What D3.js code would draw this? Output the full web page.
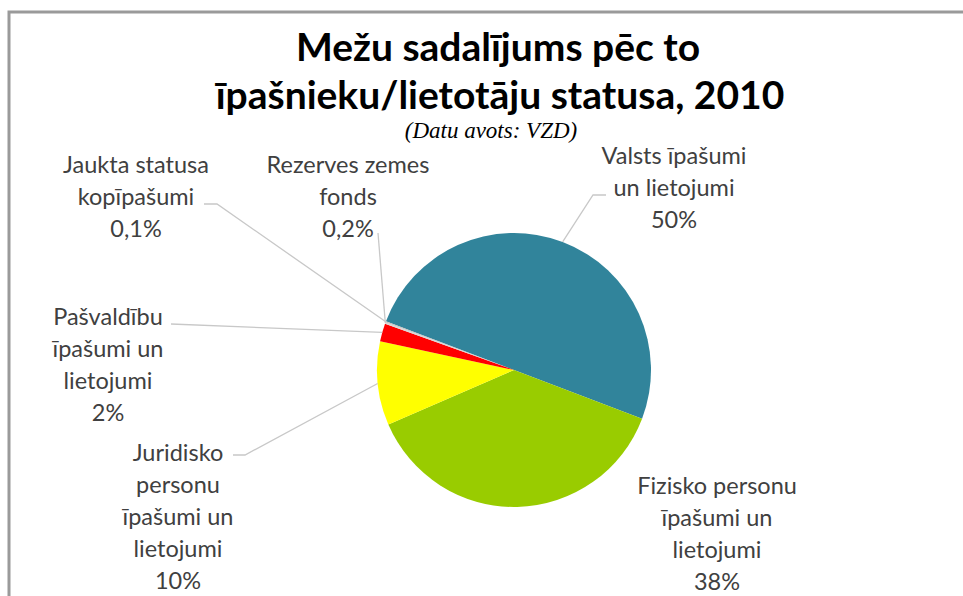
<!DOCTYPE html>
<html>
<head>
<meta charset="utf-8">
<script src="https://cdn.jsdelivr.net/npm/d3@7"></script>
<style>
  body { margin: 0; background: #fff; }
  text { font-family: Lato, "Open Sans", sans-serif; }
</style>
</head>
<body>
<div id="chart"></div>
<script>

var categories = ["Valsts īpašumi un lietojumi", "Fizisko personu īpašumi un lietojumi",
  "Juridisko personu īpašumi un lietojumi", "Pašvaldību īpašumi un lietojumi",
  "Rezerves zemes fonds", "Jaukta statusa kopīpašumi"];
var shares = [50.0, 37.7, 9.9, 2.1, 0.2, 0.1];
var shareLabels = ["50%", "38%", "10%", "2%", "0,2%", "0,1%"];
var labelLines = [
  ["Valsts īpašumi", "un lietojumi"],
  ["Fizisko personu", "īpašumi un", "lietojumi"],
  ["Juridisko", "personu", "īpašumi un", "lietojumi"],
  ["Pašvaldību", "īpašumi un", "lietojumi"],
  ["Rezerves zemes", "fonds"],
  ["Jaukta statusa", "kopīpašumi"]
];
var colors = ["#31849b", "#99cc00", "#ffff00", "#ff0000", "#d9d9d9", "#bfbfbf"];

var width = 963, height = 596;
var cx = 514, cy = 370, radius = 137;
var lineH = 32;

// label block placement: centre x, first line centre y, leader line (elbow + text end)
var labelPos = [
  { x: 674, y: 156, leader: [[593, 195], [606, 195]] },
  { x: 717, y: 486, leader: null },
  { x: 178, y: 453, leader: [[245, 455], [233, 455]] },
  { x: 108, y: 317, leader: [[171, 324]] },
  { x: 348, y: 165, leader: [[378, 233]] },
  { x: 136, y: 165, leader: [[217, 204], [204, 204]] }
];

var svg = d3.select("#chart").append("svg")
    .attr("width", width)
    .attr("height", height);

// chart frame
svg.append("rect")
    .attr("x", 9).attr("y", 12)
    .attr("width", width + 20).attr("height", height + 20)
    .attr("fill", "#fff")
    .attr("stroke", "#9a9a9a")
    .attr("stroke-width", 3);

svg.append("text")
    .attr("x", 498).attr("y", 61)
    .attr("text-anchor", "middle")
    .style("font-weight", "bold")
    .style("font-size", "39px")
    .attr("fill", "#000")
    .text("Mežu sadalījums pēc to");

svg.append("text")
    .attr("x", 500).attr("y", 109)
    .attr("text-anchor", "middle")
    .style("font-weight", "bold")
    .style("font-size", "39px")
    .attr("fill", "#000")
    .text("īpašnieku/lietotāju statusa, 2010");

svg.append("text")
    .attr("x", 491).attr("y", 138)
    .attr("text-anchor", "middle")
    .style("font-family", "'Liberation Serif', 'DejaVu Serif', serif")
    .style("font-style", "italic")
    .style("font-size", "23px")
    .attr("fill", "#000")
    .text("(Datu avots: VZD)");

var data = categories.map(function(c, i) {
  return { name: c, value: shares[i], pct: shareLabels[i], lines: labelLines[i], color: colors[i], pos: labelPos[i] };
});

var startA = -69.2 * Math.PI / 180;
var pie = d3.pie()
    .sort(null)
    .value(function(d) { return d.value; })
    .startAngle(startA)
    .endAngle(startA + 2 * Math.PI);

var arc = d3.arc().innerRadius(0).outerRadius(radius);

var arcs = pie(data);

var g = svg.append("g").attr("transform", "translate(" + cx + "," + cy + ")");

g.selectAll("path.slice")
    .data(arcs)
  .enter().append("path")
    .attr("class", "slice")
    .attr("d", arc)
    .attr("fill", function(d) { return d.data.color; });

// leader lines
svg.selectAll("polyline.leader")
    .data(arcs.filter(function(d) { return d.data.pos.leader; }))
  .enter().append("polyline")
    .attr("class", "leader")
    .attr("fill", "none")
    .attr("stroke", "#c8c8c8")
    .attr("stroke-width", 1.3)
    .attr("points", function(d) {
      var a = (d.startAngle + d.endAngle) / 2;
      var p0 = [cx + radius * Math.sin(a), cy - radius * Math.cos(a)];
      return [p0].concat(d.data.pos.leader).map(function(p) { return p.join(","); }).join(" ");
    });

// labels
var labels = svg.selectAll("text.label")
    .data(arcs)
  .enter().append("text")
    .attr("class", "label")
    .attr("text-anchor", "middle")
    .style("font-size", "23.5px")
    .attr("fill", "#404040");

labels.each(function(d) {
  var t = d3.select(this);
  var rows = d.data.lines.concat([d.data.pct]);
  rows.forEach(function(r, i) {
    t.append("tspan")
      .attr("x", d.data.pos.x)
      .attr("y", d.data.pos.y + i * lineH)
      .attr("dy", "0.35em")
      .text(r);
  });
});

</script>
</body>
</html>
